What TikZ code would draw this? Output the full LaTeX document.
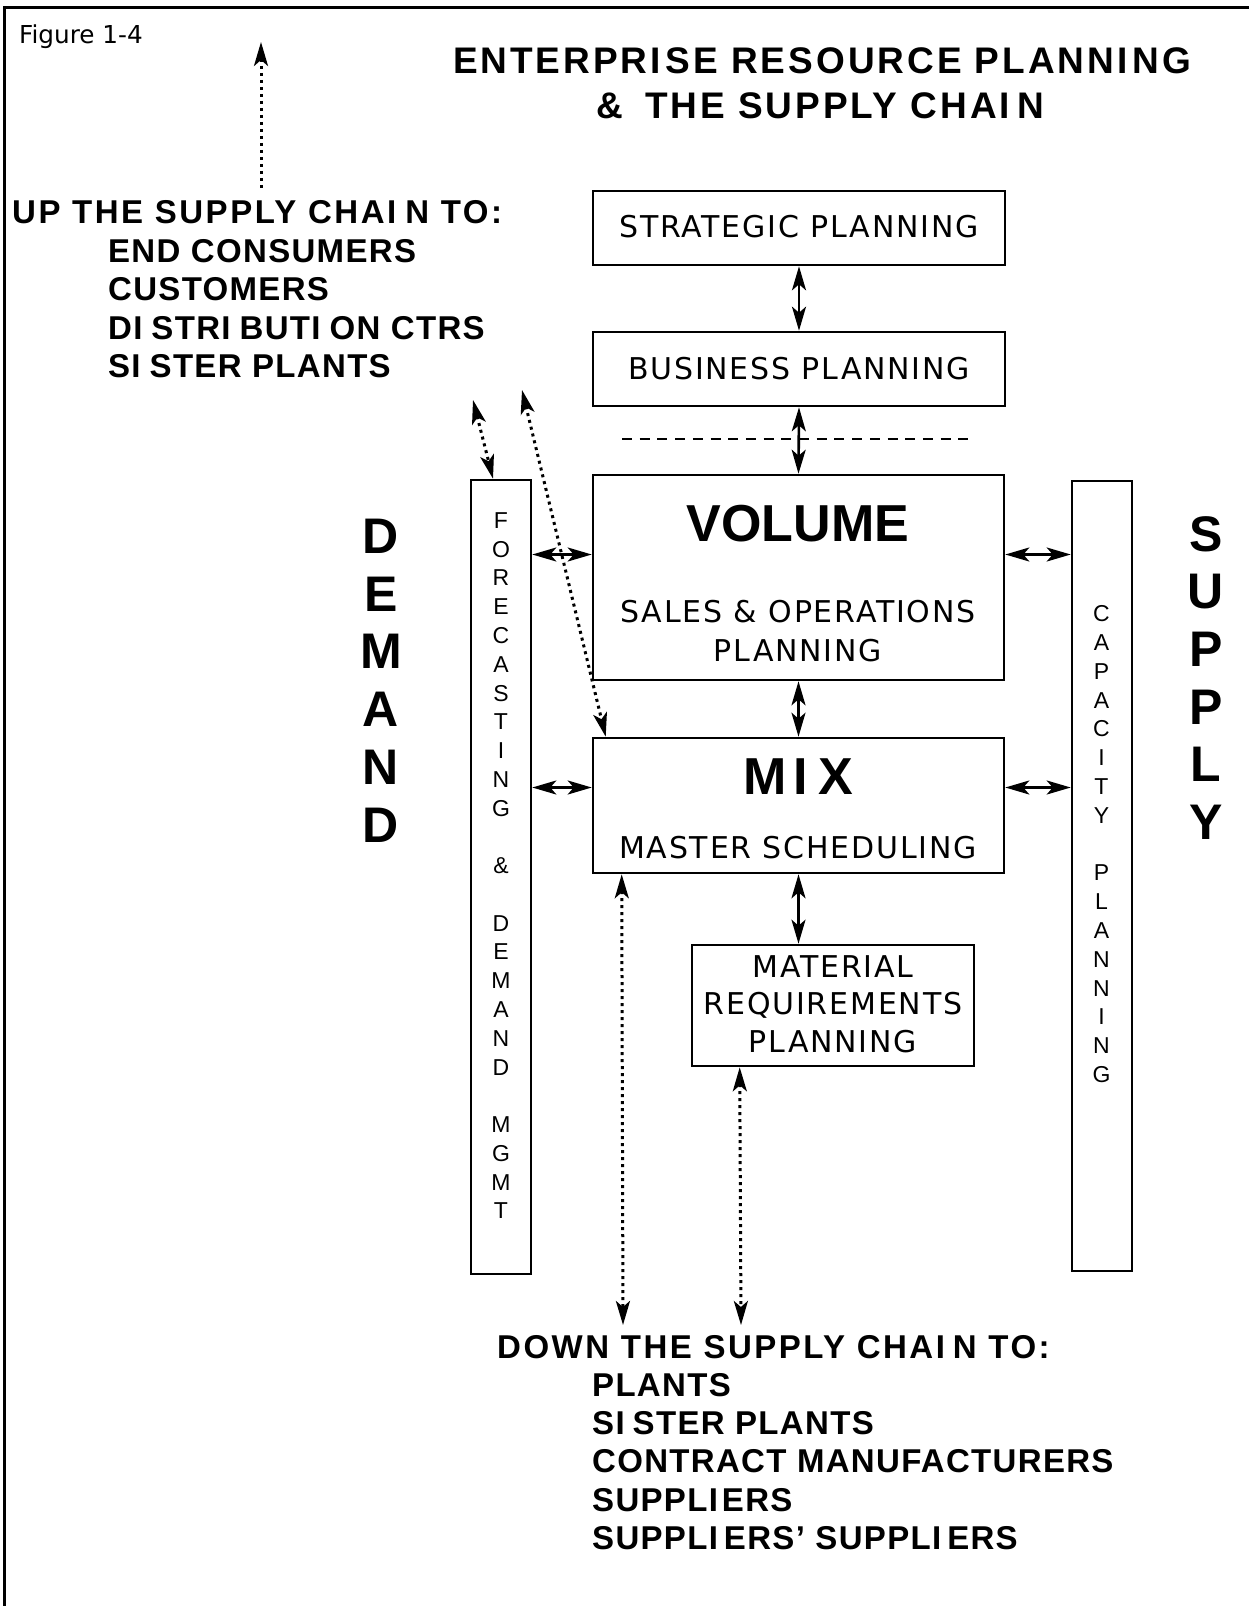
\documentclass[tikz,border=0pt]{standalone}
\usepackage{fontspec}
\setmainfont{DejaVu Sans}
\usetikzlibrary{arrows.meta,calc}
\newfontfamily\figfont{DejaVu Sans}
\newfontfamily\boxfont{DejaVu Sans}[LetterSpace=6]
\newfontfamily\headfont{Liberation Sans}[LetterSpace=8]
\newfontfamily\leadfont{Liberation Sans}[LetterSpace=7.6]
\newfontfamily\listfont{Liberation Sans}[LetterSpace=4]
\newfontfamily\plainsans{Liberation Sans}
% a capital I set in a wider cell
\newcommand{\gapI}[1]{I\kern#1pt\relax}

\tikzset{
  >={Stealth[length=24pt,width=14pt,inset=6pt]},
  box/.style={draw, line width=2.6pt, inner sep=0pt},
  lbl/.style={inner sep=0pt, anchor=base, font=\boxfont\fontsize{30}{36}\selectfont},
  bigword/.style={inner sep=0pt, anchor=base, font=\plainsans\bfseries\fontsize{52}{60}\selectfont},
  headline/.style={inner sep=0pt, anchor=base, font=\headfont\bfseries\fontsize{37}{45}\selectfont},
  leadline/.style={inner sep=0pt, anchor=base west, font=\leadfont\bfseries\fontsize{33}{38}\selectfont},
  listline/.style={inner sep=0pt, anchor=base west, font=\listfont\bfseries\fontsize{33}{38}\selectfont},
  colletter/.style={inner sep=0pt, anchor=center, font=\plainsans\fontsize{23}{28}\selectfont},
  sideletter/.style={inner sep=0pt, anchor=center, font=\plainsans\bfseries\fontsize{50}{58}\selectfont},
  link/.style={line width=2.6pt, <->},
  dotlink/.style={line width=3pt, dash pattern=on 3pt off 4pt, <->},
  frame/.style={line width=3pt}
}

\begin{document}
\begin{tikzpicture}[x=1pt, y=-1pt]
\useasboundingbox (0,0) rectangle (1249,1606);

% page frame (top and left edges)
\draw[frame] (4,1606) -- (4,7) -- (1249,7);

% caption and title
\node[inner sep=0pt, anchor=base west, font=\figfont\fontsize{24.7}{30}\selectfont] (fig) at (19,43) {Figure 1-4};
\node[headline] (title1) at (822,73) {ENTERPR\gapI{5}SE RESOURCE PLANN\gapI{5}NG};
\node[headline] (title2) at (820,118) {\&\kern9pt\ THE SUPPLY CHA\gapI{7}N};

% planning hierarchy
\node[box, minimum width=412pt, minimum height=74pt] (strat) at (799,228) {};
\node[lbl] (stratlbl) at (799,237) {STRATEGIC PLANNING};
\node[box, minimum width=412pt, minimum height=74pt] (bus) at (799,369) {};
\node[lbl] (buslbl) at (799,379) {BUSINESS PLANNING};

\node[box, minimum width=411pt, minimum height=205pt] (vol) at (798.5,577.5) {};
\node[bigword] (volword) at (798,541.5) {VOLUME};
\node[lbl] (vollbl1) at (798,622.7) {SALES \& OPERATIONS};
\node[lbl] (vollbl2) at (798,661.6) {PLANNING};

\node[box, minimum width=411pt, minimum height=135pt] (mix) at (798.5,805.5) {};
\node[bigword] (mixword) at (798.5,794.6) {M\kern6pt\gapI{11}X};
\node[lbl] (mixlbl) at (798,858.3) {MASTER SCHEDULING};

\node[box, minimum width=282pt, minimum height=121pt] (mrp) at (833,1005.5) {};
\node[lbl] (mrp1) at (833,977) {MATERIAL};
\node[lbl] (mrp2) at (833,1014) {REQUIREMENTS};
\node[lbl] (mrp3) at (833,1052) {PLANNING};

% side columns
\node[box, minimum width=60pt, minimum height=794pt] (fc) at (501,877) {};
\foreach \ch [count=\i from 0] in {F,O,R,E,C,A,S,T,I,N,G,{},\&,{},D,E,M,A,N,D,{},M,G,M,T}
  \node[colletter] (fc\i) at (501,520.5+28.77*\i) {\ch};

\node[box, minimum width=60pt, minimum height=790pt] (cap) at (1102,876) {};
\foreach \ch [count=\i from 0] in {C,A,P,A,C,I,T,Y,{},P,L,A,N,N,I,N,G}
  \node[colletter] (cap\i) at (1101.5,613.7+28.8*\i) {\ch};

\foreach \ch [count=\i from 0] in {D,E,M,A,N,D}
  \node[sideletter] (dem\i) at (381,536+57.8*\i) {\ch};
\foreach \ch [count=\i from 0] in {S,U,P,P,L,Y}
  \node[sideletter] (sup\i) at (1206,534+57.6*\i) {\ch};

% upstream list
\node[leadline] (up0) at (12,223.5) {UP THE SUPPLY CHA\gapI{9}N TO:};
\node[listline] (up1) at (108,262) {END CONSUMERS};
\node[listline] (up2) at (108,300.5) {CUSTOMERS};
\node[listline] (up3) at (108,339) {D\gapI{9}STR\gapI{9}BUT\gapI{9}ON CTRS};
\node[listline] (up4) at (108,377.5) {S\gapI{9}STER PLANTS};

% downstream list
\node[leadline] (dn0) at (497,1358) {DOWN THE SUPPLY CHA\gapI{8}N TO:};
\node[listline] (dn1) at (592,1396.3) {PLANTS};
\node[listline] (dn2) at (592,1434.6) {S\gapI{8}STER PLANTS};
\node[listline] (dn3) at (592,1472.9) {CONTRACT MANUFACTURERS};
\node[listline] (dn4) at (592,1511.2) {SUPPL\gapI{4}ERS};
\node[listline] (dn5) at (592,1549.5) {SUPPL\gapI{6}ERS’ SUPPL\gapI{6}ERS};

% dashed divider
\coordinate (divL) at (622,439);
\coordinate (divR) at (975,439);
\draw[line width=2.4pt, dash pattern=on 10pt off 7.7pt] (divL) -- (divR);

% solid links
\draw[link] (strat.south) -- (bus.north);
\draw[link] (bus.south) -- (vol.north);
\draw[link] (vol.south) -- (mix.north);
\draw[link] (mix.south) -- (mix.south |- mrp.north);

\coordinate (rowA) at (0,554.5);
\coordinate (rowB) at (0,787.5);
\draw[link] (fc.east |- rowA) -- (vol.west |- rowA);
\draw[link] (fc.east |- rowB) -- (mix.west |- rowB);
\draw[link] (vol.east |- rowA) -- (cap.west |- rowA);
\draw[link] (mix.east |- rowB) -- (cap.west |- rowB);

% dotted links to the supply chain
\coordinate (upbase) at (261,190);
\coordinate (uptip) at (261,42);
\draw[dotlink, <-] (uptip) -- (upbase);

\coordinate (upA) at (473,400);
\coordinate (upB) at (522,390);
\draw[dotlink] (upA) -- ($(fc.north)+(-8,0)$);
\draw[dotlink] (upB) -- ($(mix.north west)+(14,0)$);

\coordinate (downA) at (623,1325);
\coordinate (downB) at (741,1325);
\draw[dotlink] ($(mix.south west)+(30,0)$) -- (downA);
\draw[dotlink] ($(mrp.south west)+(49,0)$) -- (downB);
\end{tikzpicture}
\end{document}
